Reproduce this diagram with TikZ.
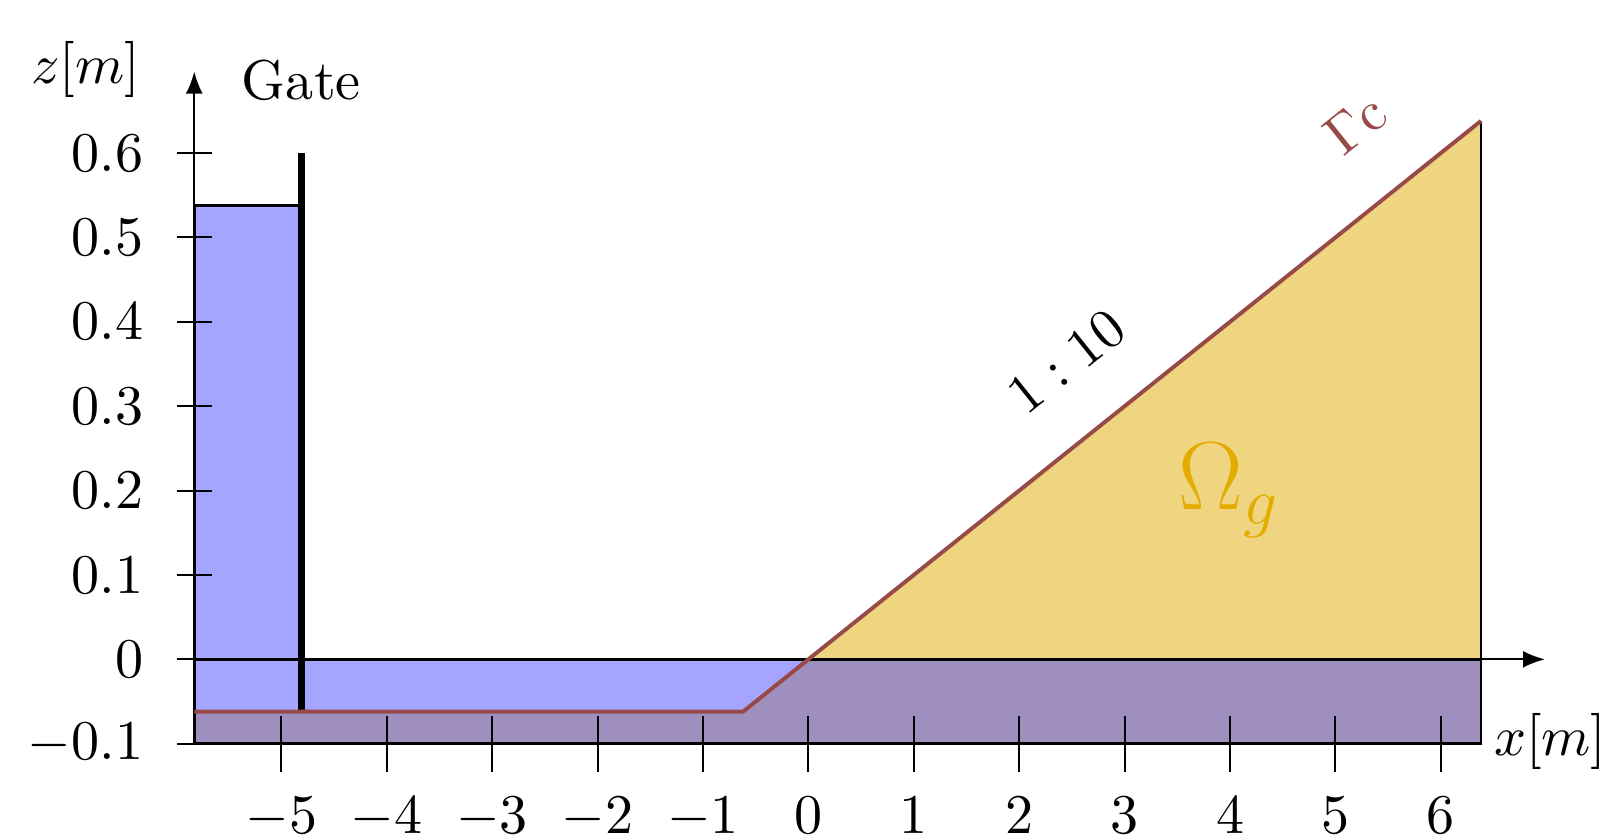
\documentclass[tikz,border=0pt]{standalone}
\usetikzlibrary{arrows.meta}
\definecolor{water}{RGB}{165,165,255}
\definecolor{sand}{RGB}{240,213,128}
\definecolor{bedfill}{RGB}{158,143,190}
\definecolor{gammac}{RGB}{152,74,72}
\definecolor{omegac}{RGB}{228,172,0}
\begin{document}
\begin{tikzpicture}[x=18.80pt,y=150.51pt,
  axisline/.style={line width=0.3pt,-{Latex[length=3.9pt,width=3pt]}},
  outline/.style={line width=0.5pt},
  tickmark/.style={line width=0.35pt},
  bedline/.style={line width=0.7pt,draw=gammac,line join=round},
  gateline/.style={line width=1.3pt},
  lab/.style={inner sep=0pt,font=\fontsize{10}{12}\selectfont}]
\useasboundingbox (-7.669,-0.2103) rectangle (7.510,0.7813);
% key points
\coordinate (A) at (-5.826,-0.1);
\coordinate (B) at (6.381,-0.1);
\coordinate (C) at (6.381,0.638);
\coordinate (O) at (0,0);
\coordinate (T) at (-0.62,-0.062);
\coordinate (L) at (-5.826,-0.062);
\coordinate (R1) at (-5.826,0.538);
\coordinate (R2) at (-4.81,0.538);
\coordinate (G0) at (-4.81,-0.062);
\coordinate (G1) at (-4.81,0.6);
\coordinate (GZ) at (-4.81,0);
\coordinate (Z0) at (-5.826,0);
\coordinate (ZR) at (6.381,0);
\coordinate (ztip) at (-5.826,0.6964);
\coordinate (xtip) at (6.987,0);
% fills
\fill[water] (L) -- (R1) -- (R2) -- (GZ) -- (O) -- (T) -- cycle;
\fill[bedfill] (A) -- (L) -- (T) -- (O) -- (ZR) -- (B) -- cycle;
\fill[sand] (O) -- (C) -- (ZR) -- cycle;
% outlines
\draw[outline] (A) -- (R1) -- (R2);
\draw[outline] (Z0) -- (ZR);
\draw[outline] (A) -- (B) -- (C);
% axes
\draw[axisline] (A) -- (ztip);
\draw[axisline] (Z0) -- (xtip);
% x ticks
\foreach \i in {-5,...,6}{
  \draw[tickmark] (\i,-0.0669) -- (\i,-0.1331);
  \node[lab,anchor=base] (xt\i) at (\i,-0.2063) {$\i$};
}
% z ticks
\foreach \v [count=\k] in {-0.1,0,0.1,0.2,0.3,0.4,0.5,0.6}{
  \draw[tickmark] (-5.992,\v) -- (-5.660,\v);
  \node[lab,anchor=east] (zt\k) at (-6.30,\v) {$\v$};
}
% gate
\draw[gateline] (G0) -- (G1);
% bed boundary
\draw[bedline] (L) -- (T) -- (C);
% labels
\node[lab,anchor=base] (gate) at (-4.81,0.6636) {Gate};
\node[lab] (zlab) at (-6.856,0.6989) {$z[m]$};
\node[lab,anchor=west] (xlab) at (6.494,-0.0978) {$x[m]$};
\node[lab,rotate=38.68] (ratio) at (2.450,0.3527) {$1:10$};
\node[lab,rotate=38.68,text=gammac] (gc) at (5.187,0.635) {$\Gamma\mathrm{c}$};
\node[anchor=base west,inner sep=0pt,text=omegac,font=\fontsize{17.9}{20}\selectfont] (om) at (3.50,0.177) {$\Omega_g$};
\end{tikzpicture}
\end{document}
